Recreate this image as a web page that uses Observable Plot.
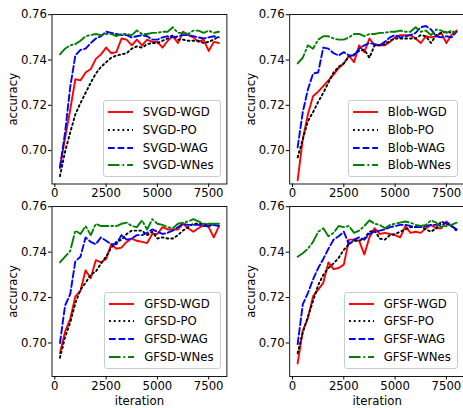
<!DOCTYPE html>
<html>
<head>
<meta charset="utf-8">
<script src="https://cdn.jsdelivr.net/npm/d3@7"></script>
<script src="https://cdn.jsdelivr.net/npm/@observablehq/plot@0.6"></script>
<style>
  html, body { margin: 0; padding: 0; background: #fff; }
  #chart { position: relative; width: 463px; height: 408px; overflow: hidden; font-family: "DejaVu Sans", sans-serif; }
  .legend { position: absolute; background: rgba(255,255,255,0.8); border: 1px solid #cccccc; border-radius: 3px;
            padding: 2px 6px 2px 4px; font-family: "DejaVu Sans", sans-serif; font-size: 11.7px; color: #000; }
  .legend .row { display: flex; align-items: center; height: 17.7px; white-space: nowrap; }
  .legend svg { display: block; margin-right: 10px; }
</style>
</head>
<body>
<div id="chart"></div>
<script>
// ---------- data ----------
const iterations = [250,500,750,1000,1250,1500,1750,2000,2250,2500,2750,3000,3250,3500,3750,4000,
                    4250,4500,4750,5000,5250,5500,5750,6000,6250,6500,6750,7000,7250,7500,7750,8000];

const xTicks = [0, 2500, 5000, 7500];
const yTicks = [0.70, 0.72, 0.74, 0.76];
const methodNames = ["SVGD", "Blob", "GFSD", "GFSF"];
const variantNames = ["WGD", "PO", "WAG", "WNes"];
const xLabel = "iteration";
const yLabel = "accuracy";

const svgdWGD  = [0.6925,0.7055,0.718,0.7315,0.731,0.7345,0.736,0.7405,0.7425,0.7455,0.743,0.7435,0.7495,0.749,0.7465,0.749,0.7465,0.749,0.748,0.748,0.7455,0.7485,0.7505,0.7475,0.7525,0.751,0.750,0.748,0.749,0.744,0.748,0.7475];
const svgdPO   = [0.6887,0.6995,0.708,0.716,0.721,0.7255,0.730,0.734,0.737,0.739,0.741,0.742,0.7425,0.743,0.745,0.746,0.7455,0.747,0.7475,0.7475,0.7485,0.7495,0.751,0.749,0.749,0.7485,0.7485,0.7485,0.7475,0.748,0.749,0.7505];
const svgdWAG  = [0.6924,0.708,0.728,0.742,0.7445,0.745,0.7475,0.7495,0.7505,0.7525,0.752,0.7515,0.751,0.751,0.750,0.7505,0.751,0.7505,0.749,0.749,0.750,0.7505,0.750,0.7505,0.751,0.751,0.7505,0.750,0.7495,0.750,0.7505,0.750];
const svgdWNes = [0.7425,0.745,0.7465,0.747,0.7485,0.7505,0.751,0.7515,0.751,0.7515,0.7515,0.7505,0.7515,0.7515,0.751,0.753,0.7515,0.7515,0.752,0.752,0.7525,0.7525,0.7545,0.752,0.752,0.7515,0.753,0.753,0.752,0.753,0.752,0.7525];

const blobWGD  = [0.687,0.705,0.716,0.724,0.726,0.7285,0.731,0.7335,0.7365,0.7385,0.742,0.739,0.7465,0.7435,0.7495,0.7465,0.7465,0.7465,0.748,0.750,0.751,0.751,0.751,0.7495,0.7475,0.7505,0.750,0.7505,0.752,0.7475,0.751,0.753];
const blobPO   = [0.697,0.705,0.713,0.717,0.7215,0.7255,0.730,0.7345,0.737,0.7385,0.7415,0.7425,0.744,0.7445,0.741,0.7465,0.7465,0.747,0.7485,0.7495,0.7495,0.7495,0.7495,0.7495,0.751,0.7505,0.7475,0.751,0.752,0.7525,0.752,0.752];
const blobWAG  = [0.7015,0.717,0.727,0.734,0.7345,0.7455,0.745,0.743,0.742,0.7435,0.742,0.742,0.745,0.7465,0.7475,0.747,0.7465,0.748,0.750,0.751,0.750,0.7505,0.751,0.752,0.7545,0.755,0.7535,0.7505,0.750,0.7505,0.750,0.7525];
const blobWNes = [0.7385,0.741,0.7465,0.745,0.749,0.7505,0.7505,0.7495,0.749,0.749,0.750,0.7515,0.7515,0.7505,0.7515,0.7515,0.752,0.752,0.7525,0.7525,0.753,0.7525,0.7525,0.7545,0.7525,0.753,0.751,0.7535,0.753,0.752,0.753,0.7515];

const gfsdWGD  = [0.6955,0.705,0.7105,0.7205,0.723,0.732,0.7285,0.7365,0.7355,0.737,0.7435,0.7415,0.742,0.7445,0.746,0.745,0.7445,0.744,0.748,0.748,0.751,0.750,0.750,0.750,0.7525,0.7505,0.749,0.7505,0.752,0.751,0.7465,0.7515];
const gfsdPO   = [0.6935,0.7025,0.709,0.7175,0.7235,0.7265,0.730,0.7315,0.735,0.738,0.742,0.7445,0.7455,0.748,0.7495,0.7495,0.7495,0.7475,0.749,0.746,0.7465,0.746,0.746,0.7475,0.7495,0.751,0.7525,0.7525,0.7525,0.752,0.752,0.7515];
const gfsdWAG  = [0.700,0.7165,0.7215,0.736,0.738,0.7465,0.7445,0.7435,0.7465,0.745,0.7435,0.7435,0.7475,0.7455,0.746,0.7475,0.7475,0.7485,0.750,0.749,0.748,0.7485,0.7495,0.751,0.7525,0.752,0.752,0.752,0.7515,0.7515,0.752,0.7515];
const gfsdWNes = [0.7355,0.738,0.7405,0.7495,0.748,0.7515,0.7475,0.7525,0.7515,0.7515,0.7515,0.7515,0.7525,0.753,0.7515,0.751,0.754,0.750,0.7545,0.7525,0.752,0.751,0.7505,0.7525,0.753,0.7535,0.7545,0.7535,0.7525,0.7525,0.7525,0.7525];

const gfsfWGD  = [0.691,0.7055,0.711,0.7205,0.7235,0.7265,0.7355,0.7325,0.733,0.7345,0.7455,0.7455,0.745,0.739,0.7465,0.7505,0.748,0.7485,0.748,0.7475,0.7465,0.7515,0.7485,0.749,0.7485,0.7505,0.752,0.7505,0.7505,0.7535,0.7515,0.750];
const gfsfPO   = [0.6955,0.7045,0.7115,0.7185,0.7255,0.730,0.733,0.735,0.7375,0.741,0.7435,0.745,0.745,0.746,0.749,0.7495,0.746,0.7455,0.7475,0.748,0.749,0.750,0.751,0.751,0.7515,0.750,0.749,0.7505,0.7535,0.7525,0.7515,0.7495];
const gfsfWAG  = [0.6995,0.717,0.722,0.728,0.733,0.737,0.7415,0.7455,0.747,0.749,0.7435,0.7455,0.7465,0.7455,0.748,0.749,0.7495,0.750,0.751,0.7515,0.752,0.752,0.7515,0.751,0.751,0.7515,0.752,0.752,0.752,0.753,0.7515,0.750];
const gfsfWNes = [0.738,0.7395,0.7415,0.7445,0.749,0.7505,0.747,0.7485,0.7515,0.751,0.7515,0.7485,0.7495,0.7515,0.754,0.7525,0.752,0.7505,0.752,0.7525,0.753,0.7535,0.753,0.752,0.7515,0.752,0.754,0.753,0.751,0.7515,0.752,0.753];

// ---------- styles ----------
const W = 463, H = 408;
const lineStyles = [
  {stroke: "#ff0000", dash: null},
  {stroke: "#000000", dash: "1.8,3"},
  {stroke: "#0000ff", dash: "6.7,2.9"},
  {stroke: "#008000", dash: "11.5,2.9,1.8,2.9"}
];
const panels = [
  {name: methodNames[0], series: [svgdWGD, svgdPO, svgdWAG, svgdWNes], l: 51.5, r: 226.4, t: 14, b: 183.5, xlab: false, legRight: 220.6, legBottom: 177.2},
  {name: methodNames[1], series: [blobWGD, blobPO, blobWAG, blobWNes], l: 289.2, r: 464.1, t: 14, b: 183.5, xlab: false, legRight: 457.8, legBottom: 177.2},
  {name: methodNames[2], series: [gfsdWGD, gfsdPO, gfsdWAG, gfsdWNes], l: 51.5, r: 226.4, t: 206, b: 376, xlab: true, legRight: 220.6, legBottom: 368.5},
  {name: methodNames[3], series: [gfsfWGD, gfsfPO, gfsfWAG, gfsfWNes], l: 289.2, r: 464.1, t: 206, b: 376, xlab: true, legRight: 457.8, legBottom: 368.5}
];

const chart = document.getElementById("chart");
const font = "DejaVu Sans";

panels.forEach(p => {
  const marks = [];
  p.series.forEach((vals, i) => {
    const data = iterations.map((it, k) => ({iter: it, acc: vals[k]}));
    const st = lineStyles[i];
    const opts = {x: "iter", y: "acc", stroke: st.stroke, strokeWidth: 1.9, strokeLinejoin: "round"};
    if (st.dash) opts.strokeDasharray = st.dash;
    marks.push(Plot.line(data, opts));
  });
  marks.push(Plot.frame({stroke: "#000", strokeWidth: 0.9}));
  marks.push(Plot.axisX(xTicks, {tickSize: 3.5, tickPadding: 1.5, tickFormat: d3.format("d"), label: null, fontSize: 11.7, stroke: "#000"}));
  marks.push(Plot.axisY(yTicks, {tickSize: 3.5, tickPadding: 1.5, tickFormat: d3.format(".2f"), label: null, fontSize: 11.7, stroke: "#000"}));
  marks.push(Plot.text([yLabel], {frameAnchor: "left", rotate: -90, dx: -38.5, fontSize: 11.7, fill: "#000", textAnchor: "middle", lineAnchor: "middle"}));
  if (p.xlab) marks.push(Plot.text([xLabel], {frameAnchor: "bottom", dy: 25, fontSize: 11.7, fill: "#000", textAnchor: "middle", lineAnchor: "middle"}));

  const svg = Plot.plot({
    width: W, height: H,
    marginLeft: p.l, marginRight: W - p.r, marginTop: p.t, marginBottom: H - p.b,
    style: {background: "transparent", fontFamily: font, fontSize: "11.7px", color: "#000", overflow: "visible"},
    x: {type: "linear", domain: [-137.5, 8387.5], axis: null},
    y: {type: "linear", domain: [0.68525, 0.7601], axis: null},
    marks
  });
  svg.style.position = "absolute";
  svg.style.left = "0px";
  svg.style.top = "0px";
  chart.appendChild(svg);

  // legend
  const leg = document.createElement("div");
  leg.className = "legend";
  leg.style.right = (W - p.legRight) + "px";
  leg.style.bottom = (H - p.legBottom) + "px";
  variantNames.forEach((v, i) => {
    const st = lineStyles[i];
    const row = document.createElement("div");
    row.className = "row";
    row.innerHTML = `<svg width="25" height="10"><line x1="0" x2="25" y1="5" y2="5" stroke="${st.stroke}" stroke-width="1.9" ${st.dash ? `stroke-dasharray="${st.dash}"` : ""}/></svg><span>${p.name}-${v}</span>`;
    leg.appendChild(row);
  });
  chart.appendChild(leg);
});
</script>
</body>
</html>
